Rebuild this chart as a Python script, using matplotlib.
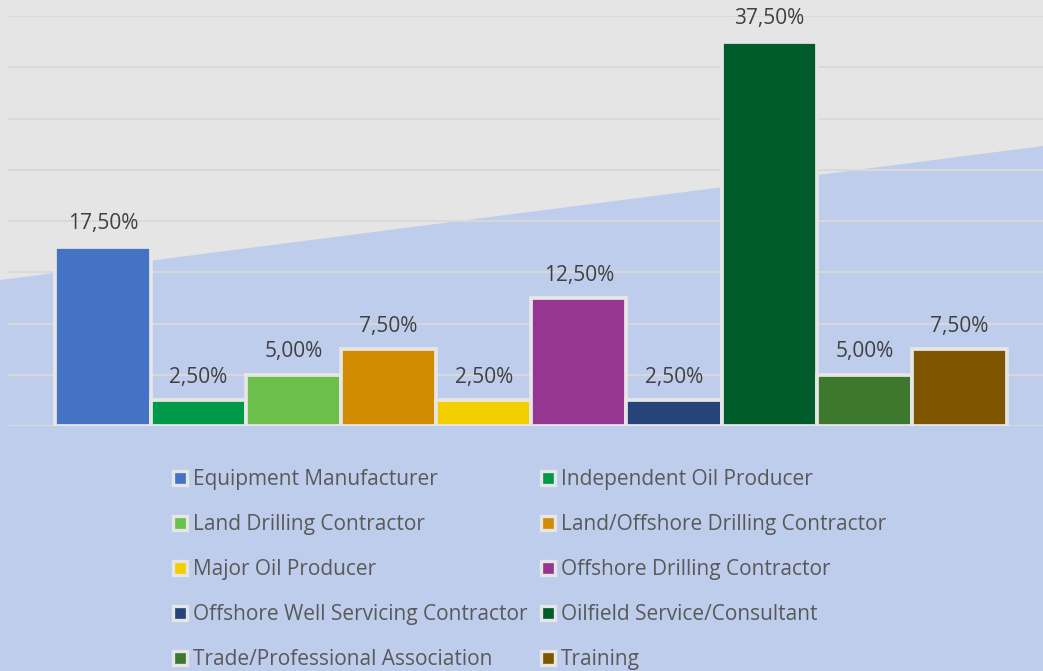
import matplotlib.pyplot as plt
from matplotlib.lines import Line2D
from matplotlib.patches import Polygon

# Respondents by business type
categories = [
    "Equipment Manufacturer",
    "Independent Oil Producer",
    "Land Drilling Contractor",
    "Land/Offshore Drilling Contractor",
    "Major Oil Producer",
    "Offshore Drilling Contractor",
    "Offshore Well Servicing Contractor",
    "Oilfield Service/Consultant",
    "Trade/Professional Association",
    "Training",
]
shares = [17.5, 2.5, 5.0, 7.5, 2.5, 12.5, 2.5, 37.5, 5.0, 7.5]
colors = [
    "#4472C4", "#00994A", "#6BBF4A", "#D18B00", "#F4CF00",
    "#953692", "#264478", "#005C2B", "#3D782E", "#7F5500",
]

plt.rcParams["font.family"] = ["Open Sans", "DejaVu Sans"]

W, H = 1043, 671
fig = plt.figure(figsize=(W / 100, H / 100), dpi=100)
fig.patch.set_facecolor("#E5E5E5")

# light blue band sloping up to the right, behind everything
band = Polygon(
    [(0, 1 - 280 / H), (1, 1 - 146 / H), (1, 0), (0, 0)],
    closed=True, transform=fig.transFigure, facecolor="#BECDEB",
    edgecolor="none", zorder=0,
)
fig.patches.append(band)

left_px, right_px = 7.8, 1054.7
ax = fig.add_axes([left_px / W, 1 - 426 / H, (right_px - left_px) / W, 410 / H])
ax.set_facecolor("none")
ax.set_zorder(2)

x = list(range(len(categories)))
bars = ax.bar(x, shares, width=1.0, color=colors, edgecolor="#E6E6E6",
              linewidth=2.7, zorder=3)

for xi, v in zip(x, shares):
    ax.annotate(f"{v:.2f}%".replace(".", ","), (xi, v), xytext=(0, 12.5),
                textcoords="offset points", ha="center", va="baseline",
                fontsize=15, color="#404040", zorder=4)

ax.set_xlim(-1, 10)
ax.set_ylim(0, 40)
ax.set_yticks(range(0, 41, 5))
ax.yaxis.grid(True, color="#D9D9D9", linewidth=1.4, zorder=1)
ax.set_axisbelow(True)
ax.tick_params(left=False, bottom=False, labelleft=False, labelbottom=False)
for s in ax.spines.values():
    s.set_visible(False)

# two-column legend, filled row by row
handles = [
    Line2D([], [], linestyle="none", marker="s", markersize=9.5,
           markerfacecolor=c, markeredgecolor="#E6E6E6", markeredgewidth=2.4)
    for c in colors
]
order = [0, 2, 4, 6, 8, 1, 3, 5, 7, 9]
leg = fig.legend(
    [handles[i] for i in order], [categories[i] for i in order],
    ncol=2, loc="upper left", bbox_to_anchor=(172 / W, 1 - 469 / H),
    frameon=False, fontsize=15, labelcolor="#595959",
    handlelength=0.75, handletextpad=0.25, columnspacing=0.6,
    labelspacing=1.15, borderpad=0, borderaxespad=0,
)
leg.set_zorder(3)

fig.savefig("out.png", dpi=100, facecolor=fig.get_facecolor())
